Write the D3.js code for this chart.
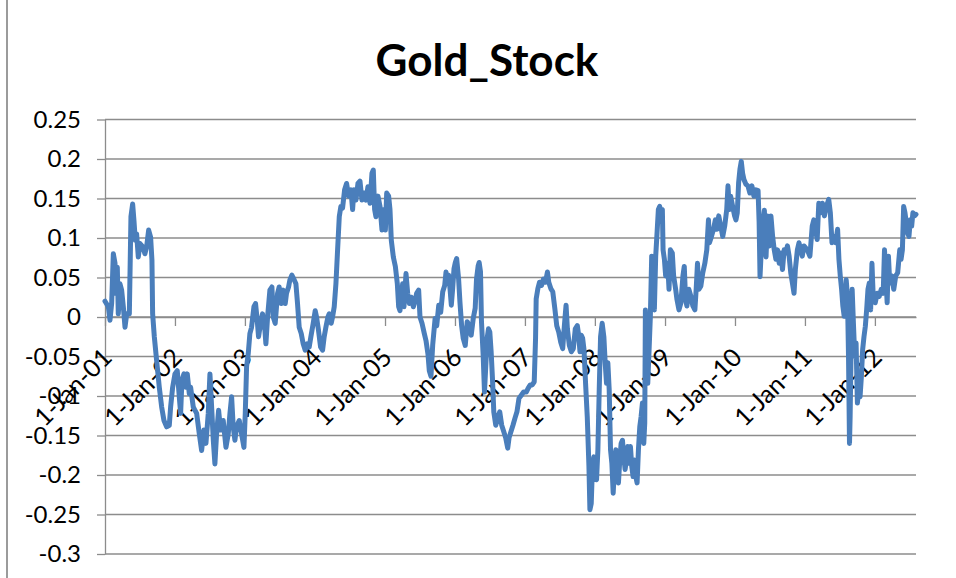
<!DOCTYPE html>
<html>
<head>
<meta charset="utf-8">
<script src="https://cdn.jsdelivr.net/npm/d3@7"></script>
<style>
  body { margin: 0; background: #fff; }
  svg { display: block; }
</style>
</head>
<body>
<svg id="chart" width="956" height="578"></svg>
<script>
// Gold vs. stock relative performance, daily series (year fraction, value)
const chartTitle = "Gold_Stock";
const yTickValues = [0.25, 0.2, 0.15, 0.1, 0.05, 0, -0.05, -0.1, -0.15, -0.2, -0.25, -0.3];
const yTickLabels = ["0.25", "0.2", "0.15", "0.1", "0.05", "0", "-0.05", "-0.1", "-0.15", "-0.2", "-0.25", "-0.3"];
const tickYears = [2001, 2002, 2003, 2004, 2005, 2006, 2007, 2008, 2009, 2010, 2011, 2012];

const goldStock = [
  [2001.000, 0.020], [2001.048, 0.013], [2001.071, -0.004], [2001.095, 0.017], [2001.119, 0.080], [2001.143, 0.068],
  [2001.157, 0.030], [2001.176, 0.063], [2001.190, 0.004], [2001.214, 0.042], [2001.238, 0.034], [2001.262, 0.013],
  [2001.286, -0.013], [2001.310, 0.004], [2001.348, 0.004], [2001.371, 0.127], [2001.395, 0.143], [2001.414, 0.122],
  [2001.433, 0.097], [2001.452, 0.105], [2001.476, 0.076], [2001.500, 0.093], [2001.538, 0.089], [2001.571, 0.080],
  [2001.595, 0.089], [2001.624, 0.110], [2001.652, 0.101], [2001.671, 0.072], [2001.681, 0.004], [2001.705, -0.025],
  [2001.738, -0.055], [2001.776, -0.089], [2001.810, -0.114], [2001.843, -0.131], [2001.881, -0.139], [2001.919, -0.137],
  [2001.938, -0.114], [2001.967, -0.089], [2002.000, -0.072], [2002.033, -0.068], [2002.062, -0.101], [2002.081, -0.122],
  [2002.100, -0.080], [2002.129, -0.072], [2002.157, -0.089], [2002.176, -0.072], [2002.205, -0.097], [2002.224, -0.089],
  [2002.262, -0.114], [2002.310, -0.122], [2002.348, -0.148], [2002.381, -0.169], [2002.414, -0.143], [2002.443, -0.160],
  [2002.476, -0.122], [2002.500, -0.072], [2002.529, -0.122], [2002.548, -0.156], [2002.571, -0.186], [2002.595, -0.148],
  [2002.624, -0.118], [2002.652, -0.143], [2002.690, -0.131], [2002.729, -0.165], [2002.762, -0.148], [2002.786, -0.122],
  [2002.810, -0.101], [2002.833, -0.139], [2002.857, -0.156], [2002.881, -0.139], [2002.919, -0.131], [2002.952, -0.148],
  [2002.986, -0.165], [2003.005, -0.122], [2003.024, -0.063], [2003.048, -0.046], [2003.071, -0.021], [2003.095, -0.013],
  [2003.129, 0.013], [2003.152, 0.017], [2003.176, -0.004], [2003.195, -0.025], [2003.224, -0.008], [2003.252, 0.004],
  [2003.286, -0.017], [2003.300, -0.034], [2003.324, 0.000], [2003.357, 0.034], [2003.386, 0.038], [2003.405, 0.000],
  [2003.433, -0.008], [2003.467, 0.030], [2003.490, 0.038], [2003.519, 0.017], [2003.548, 0.034], [2003.576, 0.017],
  [2003.595, 0.030], [2003.624, 0.038], [2003.643, 0.047], [2003.671, 0.053], [2003.705, 0.047], [2003.729, 0.042],
  [2003.752, 0.017], [2003.776, -0.013], [2003.805, -0.021], [2003.833, -0.034], [2003.862, -0.042], [2003.890, -0.034],
  [2003.919, -0.038], [2003.943, -0.025], [2003.976, -0.008], [2004.005, 0.008], [2004.024, 0.000], [2004.052, -0.017],
  [2004.081, -0.038], [2004.110, -0.042], [2004.133, -0.025], [2004.157, -0.013], [2004.186, 0.000], [2004.205, 0.004],
  [2004.233, -0.008], [2004.252, 0.000], [2004.276, 0.013], [2004.300, 0.042], [2004.324, 0.085], [2004.348, 0.127],
  [2004.371, 0.140], [2004.395, 0.138], [2004.424, 0.161], [2004.452, 0.169], [2004.481, 0.153], [2004.514, 0.161],
  [2004.538, 0.136], [2004.557, 0.161], [2004.586, 0.148], [2004.614, 0.169], [2004.643, 0.172], [2004.671, 0.148],
  [2004.700, 0.157], [2004.729, 0.148], [2004.757, 0.165], [2004.786, 0.144], [2004.814, 0.182], [2004.833, 0.186],
  [2004.852, 0.136], [2004.871, 0.127], [2004.900, 0.153], [2004.929, 0.140], [2004.957, 0.110], [2004.986, 0.136],
  [2005.005, 0.110], [2005.024, 0.157], [2005.052, 0.153], [2005.071, 0.136], [2005.090, 0.097], [2005.119, 0.076],
  [2005.148, 0.064], [2005.176, 0.042], [2005.195, 0.013], [2005.214, 0.008], [2005.233, 0.025], [2005.252, 0.042],
  [2005.271, 0.013], [2005.300, 0.055], [2005.324, 0.030], [2005.348, 0.017], [2005.376, 0.025], [2005.405, 0.013],
  [2005.433, 0.021], [2005.452, 0.030], [2005.481, 0.034], [2005.500, 0.000], [2005.529, -0.008], [2005.562, -0.021],
  [2005.586, -0.030], [2005.614, -0.047], [2005.633, -0.068], [2005.657, -0.075], [2005.682, -0.035], [2005.716, -0.002],
  [2005.739, -0.011], [2005.768, 0.015], [2005.796, 0.006], [2005.825, 0.032], [2005.853, 0.040], [2005.872, 0.057],
  [2005.891, 0.044], [2005.910, 0.053], [2005.929, 0.036], [2005.948, 0.015], [2005.967, 0.036], [2005.986, 0.061],
  [2006.005, 0.069], [2006.024, 0.074], [2006.052, 0.048], [2006.071, 0.019], [2006.095, -0.011], [2006.118, -0.027],
  [2006.147, -0.036], [2006.175, -0.006], [2006.204, -0.011], [2006.232, -0.023], [2006.261, -0.002], [2006.289, 0.011],
  [2006.308, 0.048], [2006.332, 0.065], [2006.346, 0.069], [2006.365, 0.057], [2006.379, -0.006], [2006.403, -0.048],
  [2006.422, -0.095], [2006.441, -0.061], [2006.460, -0.027], [2006.479, -0.015], [2006.498, -0.019], [2006.517, -0.044],
  [2006.536, -0.078], [2006.555, -0.120], [2006.583, -0.137], [2006.611, -0.128], [2006.640, -0.120], [2006.668, -0.137],
  [2006.697, -0.145], [2006.725, -0.153], [2006.754, -0.166], [2006.773, -0.153], [2006.801, -0.145], [2006.829, -0.137],
  [2006.858, -0.128], [2006.886, -0.120], [2006.915, -0.103], [2006.948, -0.099], [2006.981, -0.095], [2007.019, -0.095],
  [2007.047, -0.090], [2007.076, -0.086], [2007.104, -0.086], [2007.133, -0.082], [2007.152, -0.027], [2007.161, 0.023],
  [2007.185, 0.036], [2007.209, 0.044], [2007.237, 0.040], [2007.265, 0.048], [2007.294, 0.044], [2007.322, 0.057],
  [2007.341, 0.044], [2007.370, 0.036], [2007.398, 0.032], [2007.427, 0.011], [2007.455, -0.011], [2007.483, -0.019],
  [2007.512, -0.032], [2007.540, -0.040], [2007.564, -0.011], [2007.588, 0.015], [2007.607, -0.015], [2007.635, -0.036],
  [2007.664, -0.044], [2007.692, -0.040], [2007.720, -0.015], [2007.749, -0.011], [2007.768, -0.023], [2007.787, -0.044],
  [2007.806, -0.023], [2007.825, -0.027], [2007.844, -0.041], [2007.867, -0.084], [2007.891, -0.126], [2007.915, -0.189],
  [2007.929, -0.244], [2007.948, -0.236], [2007.967, -0.185], [2007.986, -0.177], [2008.005, -0.202], [2008.024, -0.206],
  [2008.043, -0.168], [2008.062, -0.092], [2008.081, -0.025], [2008.104, -0.008], [2008.128, -0.025], [2008.147, -0.058],
  [2008.166, -0.084], [2008.185, -0.058], [2008.204, -0.092], [2008.223, -0.168], [2008.242, -0.185], [2008.261, -0.223],
  [2008.280, -0.189], [2008.299, -0.168], [2008.318, -0.193], [2008.336, -0.210], [2008.355, -0.181], [2008.374, -0.160],
  [2008.393, -0.156], [2008.412, -0.177], [2008.431, -0.193], [2008.450, -0.181], [2008.469, -0.164], [2008.488, -0.185],
  [2008.507, -0.164], [2008.526, -0.189], [2008.545, -0.202], [2008.564, -0.181], [2008.583, -0.202], [2008.602, -0.210],
  [2008.621, -0.168], [2008.640, -0.139], [2008.659, -0.126], [2008.678, -0.109], [2008.697, -0.160], [2008.711, -0.134],
  [2008.720, 0.009], [2008.735, -0.041], [2008.754, -0.084], [2008.773, -0.041], [2008.791, 0.001], [2008.810, 0.077],
  [2008.829, 0.043], [2008.848, 0.009], [2008.867, 0.077], [2008.886, 0.106], [2008.905, 0.136], [2008.924, 0.140],
  [2008.943, 0.132], [2008.962, 0.136], [2008.972, 0.085], [2008.991, 0.073], [2009.009, 0.052], [2009.038, 0.068],
  [2009.057, 0.035], [2009.076, 0.085], [2009.104, 0.081], [2009.123, 0.052], [2009.152, 0.035], [2009.171, 0.022],
  [2009.199, 0.009], [2009.227, 0.018], [2009.256, 0.052], [2009.275, 0.064], [2009.294, 0.022], [2009.313, 0.014],
  [2009.341, 0.035], [2009.370, 0.026], [2009.398, 0.014], [2009.427, 0.009], [2009.445, 0.035], [2009.464, 0.068],
  [2009.483, 0.035], [2009.512, 0.039], [2009.540, 0.056], [2009.569, 0.068], [2009.597, 0.085], [2009.621, 0.123],
  [2009.635, 0.094], [2009.664, 0.102], [2009.692, 0.111], [2009.720, 0.123], [2009.739, 0.111], [2009.768, 0.128],
  [2009.796, 0.115], [2009.825, 0.102], [2009.853, 0.115], [2009.882, 0.136], [2009.900, 0.166], [2009.919, 0.136],
  [2009.938, 0.153], [2009.967, 0.140], [2009.995, 0.128], [2010.014, 0.123], [2010.033, 0.132], [2010.052, 0.170],
  [2010.071, 0.187], [2010.090, 0.197], [2010.109, 0.182], [2010.128, 0.174], [2010.156, 0.168], [2010.185, 0.166],
  [2010.213, 0.157], [2010.242, 0.166], [2010.270, 0.153], [2010.299, 0.161], [2010.330, 0.160], [2010.345, 0.120],
  [2010.358, 0.051], [2010.391, 0.114], [2010.420, 0.135], [2010.444, 0.076], [2010.467, 0.128], [2010.491, 0.090],
  [2010.514, 0.128], [2010.538, 0.102], [2010.561, 0.085], [2010.585, 0.073], [2010.608, 0.085], [2010.632, 0.068],
  [2010.656, 0.081], [2010.679, 0.060], [2010.703, 0.085], [2010.726, 0.081], [2010.750, 0.090], [2010.774, 0.077],
  [2010.797, 0.056], [2010.821, 0.043], [2010.844, 0.030], [2010.863, 0.060], [2010.892, 0.085], [2010.915, 0.094],
  [2010.939, 0.085], [2010.962, 0.077], [2010.986, 0.090], [2011.033, 0.085], [2011.071, 0.077], [2011.104, 0.115],
  [2011.127, 0.123], [2011.151, 0.111], [2011.175, 0.098], [2011.198, 0.144], [2011.222, 0.132], [2011.250, 0.144],
  [2011.278, 0.128], [2011.307, 0.140], [2011.340, 0.149], [2011.363, 0.132], [2011.387, 0.094], [2011.410, 0.102],
  [2011.439, 0.094], [2011.467, 0.111], [2011.486, 0.073], [2011.505, 0.052], [2011.524, 0.035], [2011.542, 0.014],
  [2011.561, 0.001], [2011.580, 0.018], [2011.590, 0.047], [2011.608, 0.026], [2011.623, -0.050], [2011.637, -0.160],
  [2011.646, -0.126], [2011.660, -0.041], [2011.675, 0.035], [2011.693, -0.008], [2011.712, -0.050], [2011.731, -0.033],
  [2011.750, -0.109], [2011.769, -0.092], [2011.788, -0.101], [2011.807, -0.075], [2011.825, -0.041], [2011.844, -0.025],
  [2011.863, -0.012], [2011.882, 0.009], [2011.901, 0.035], [2011.920, 0.043], [2011.939, 0.009], [2011.958, 0.068],
  [2011.976, 0.026], [2012.005, 0.018], [2012.033, 0.030], [2012.061, 0.026], [2012.090, 0.035], [2012.118, 0.030],
  [2012.137, 0.085], [2012.156, 0.052], [2012.175, 0.018], [2012.193, 0.077], [2012.212, 0.043], [2012.241, 0.052],
  [2012.269, 0.035], [2012.297, 0.052], [2012.325, 0.056], [2012.354, 0.085], [2012.373, 0.073], [2012.392, 0.085],
  [2012.410, 0.140], [2012.429, 0.132], [2012.448, 0.119], [2012.467, 0.106], [2012.486, 0.102], [2012.505, 0.123],
  [2012.524, 0.115], [2012.542, 0.132], [2012.566, 0.128], [2012.586, 0.130]
];

// Year fraction -> UTC date
function yearToDate(t) {
  const yr = Math.floor(t);
  const a = Date.UTC(yr, 0, 1), b = Date.UTC(yr + 1, 0, 1);
  return new Date(a + (t - yr) * (b - a));
}

const series = goldStock.map(([t, v]) => ({ date: yearToDate(t), value: v }));
const tickDates = tickYears.map(y => new Date(Date.UTC(y, 0, 1)));

const svg = d3.select("#chart");
const W = 956, H = 578;
const plot = { left: 105, right: 916, top: 119.5, bottom: 554 };
const font = "Lato, 'Open Sans', sans-serif";
const gridColor = "#8c8c8c";

svg.append("rect").attr("width", W).attr("height", H).attr("fill", "#fff");

// chart-area border (left edge)
svg.append("line")
  .attr("x1", 7).attr("x2", 7).attr("y1", 0).attr("y2", H)
  .attr("stroke", "#7a7a7a").attr("stroke-width", 1.5);

const x = d3.scaleUtc()
  .domain([series[0].date, series[series.length - 1].date])
  .range([plot.left, plot.right]);

const y = d3.scaleLinear()
  .domain([-0.3, 0.25])
  .range([plot.bottom, plot.top]);

// horizontal gridlines
svg.append("g")
  .selectAll("line")
  .data(yTickValues)
  .join("line")
  .attr("x1", plot.left).attr("x2", plot.right)
  .attr("y1", d => y(d)).attr("y2", d => y(d))
  .attr("stroke", gridColor).attr("stroke-width", 1.3);

// value axis
const yAxis = svg.append("g")
  .attr("transform", `translate(${plot.left},0)`)
  .call(d3.axisLeft(y)
    .tickValues(yTickValues)
    .tickSize(8)
    .tickSizeOuter(0)
    .tickPadding(16)
    .tickFormat((d, i) => yTickLabels[i]));
yAxis.select(".domain").attr("stroke", gridColor).attr("stroke-width", 1.3);
yAxis.selectAll(".tick line").attr("stroke", gridColor).attr("stroke-width", 1.3);
yAxis.selectAll(".tick text")
  .attr("font-family", font).attr("font-size", 24).attr("fill", "#000");

// date axis crossing at zero
const xAxis = svg.append("g")
  .attr("transform", `translate(0,${y(0)})`)
  .call(d3.axisBottom(x)
    .tickValues(tickDates)
    .tickSize(9)
    .tickSizeOuter(0)
    .tickFormat(d3.utcFormat("%-d-%b-%y")));
xAxis.select(".domain").attr("stroke", gridColor).attr("stroke-width", 1.3);
xAxis.selectAll(".tick line").attr("stroke", gridColor).attr("stroke-width", 1.3);
xAxis.selectAll(".tick text")
  .attr("font-family", font).attr("font-size", 25).attr("fill", "#000")
  .attr("text-anchor", "end")
  .attr("x", 0).attr("y", 0).attr("dy", 0)
  .attr("transform", "translate(8,42) rotate(-45)");

// series line
const line = d3.line()
  .x(d => x(d.date))
  .y(d => y(d.value));

svg.append("path")
  .datum(series)
  .attr("d", line)
  .attr("fill", "none")
  .attr("stroke", "#4a7ebb")
  .attr("stroke-width", 5)
  .attr("stroke-linejoin", "round")
  .attr("stroke-linecap", "round");

// title
svg.append("text")
  .attr("x", 487).attr("y", 76)
  .attr("text-anchor", "middle")
  .attr("font-family", font).attr("font-weight", "bold")
  .attr("font-size", 44).attr("fill", "#000")
  .text(chartTitle);
</script>
</body>
</html>
